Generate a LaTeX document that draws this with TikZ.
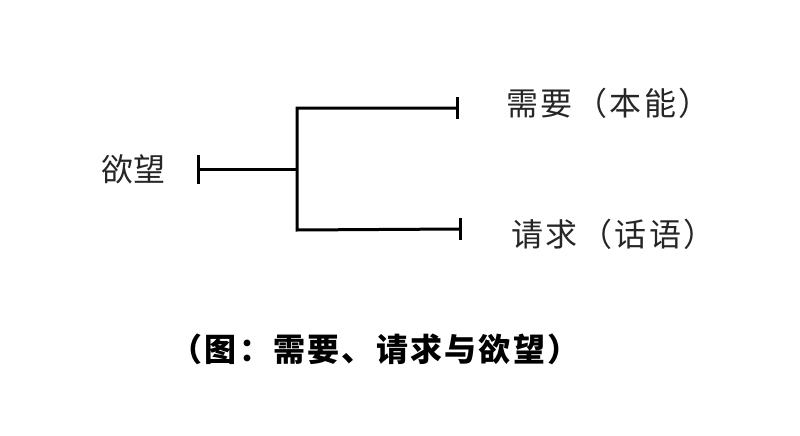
\documentclass[tikz,border=0pt]{standalone}
\usepackage{fontspec}
\newfontfamily\cjk{Noto Sans CJK SC}
\newfontfamily\cjkwide[LetterSpace=8]{Noto Sans CJK SC}
\newfontfamily\cjkcap[LetterSpace=7]{Noto Sans CJK SC}
\begin{document}
\begin{tikzpicture}[x=1pt,y=-1pt,
  lbl/.style={font=\cjk\fontsize{32}{32}\selectfont, inner sep=0pt, text=black!85},
  wlbl/.style={font=\cjkwide\fontsize{32}{32}\selectfont, inner sep=0pt, text=black!85},
  captext/.style={font=\cjkcap\bfseries\fontsize{32}{32}\selectfont, inner sep=0pt},
  tree/.style={line width=3pt, line cap=butt}]
\useasboundingbox (0,0) rectangle (800,436);
% nodes
\node[lbl, anchor=west] (desire) at (101,169) {欲望};
\node[wlbl, anchor=west] (need) at (506,103) {需要（本能）};
\node[wlbl, anchor=west] (demand) at (511,234) {请求（话语）};
\node[captext] (caption) at (375,349) {（图：需要、请求与欲望）};
% coordinates of the tree
\coordinate (l) at (198,169);
\coordinate (j) at (297,169);
\coordinate (tc) at (297,108);
\coordinate (te) at (457,108);
\coordinate (bc) at (297,230);
\coordinate (be) at (460,229);
\draw[tree] (l) -- (j);
\draw[tree] (te) -- (tc) -- (bc) -- (be);
\draw[tree] ([yshift=-14.5pt]l) -- ([yshift=14.5pt]l);
\draw[tree] ([yshift=-11pt]te) -- ([yshift=11pt]te);
\draw[tree] ([yshift=-11pt]be) -- ([yshift=11pt]be);
\end{tikzpicture}
\end{document}
